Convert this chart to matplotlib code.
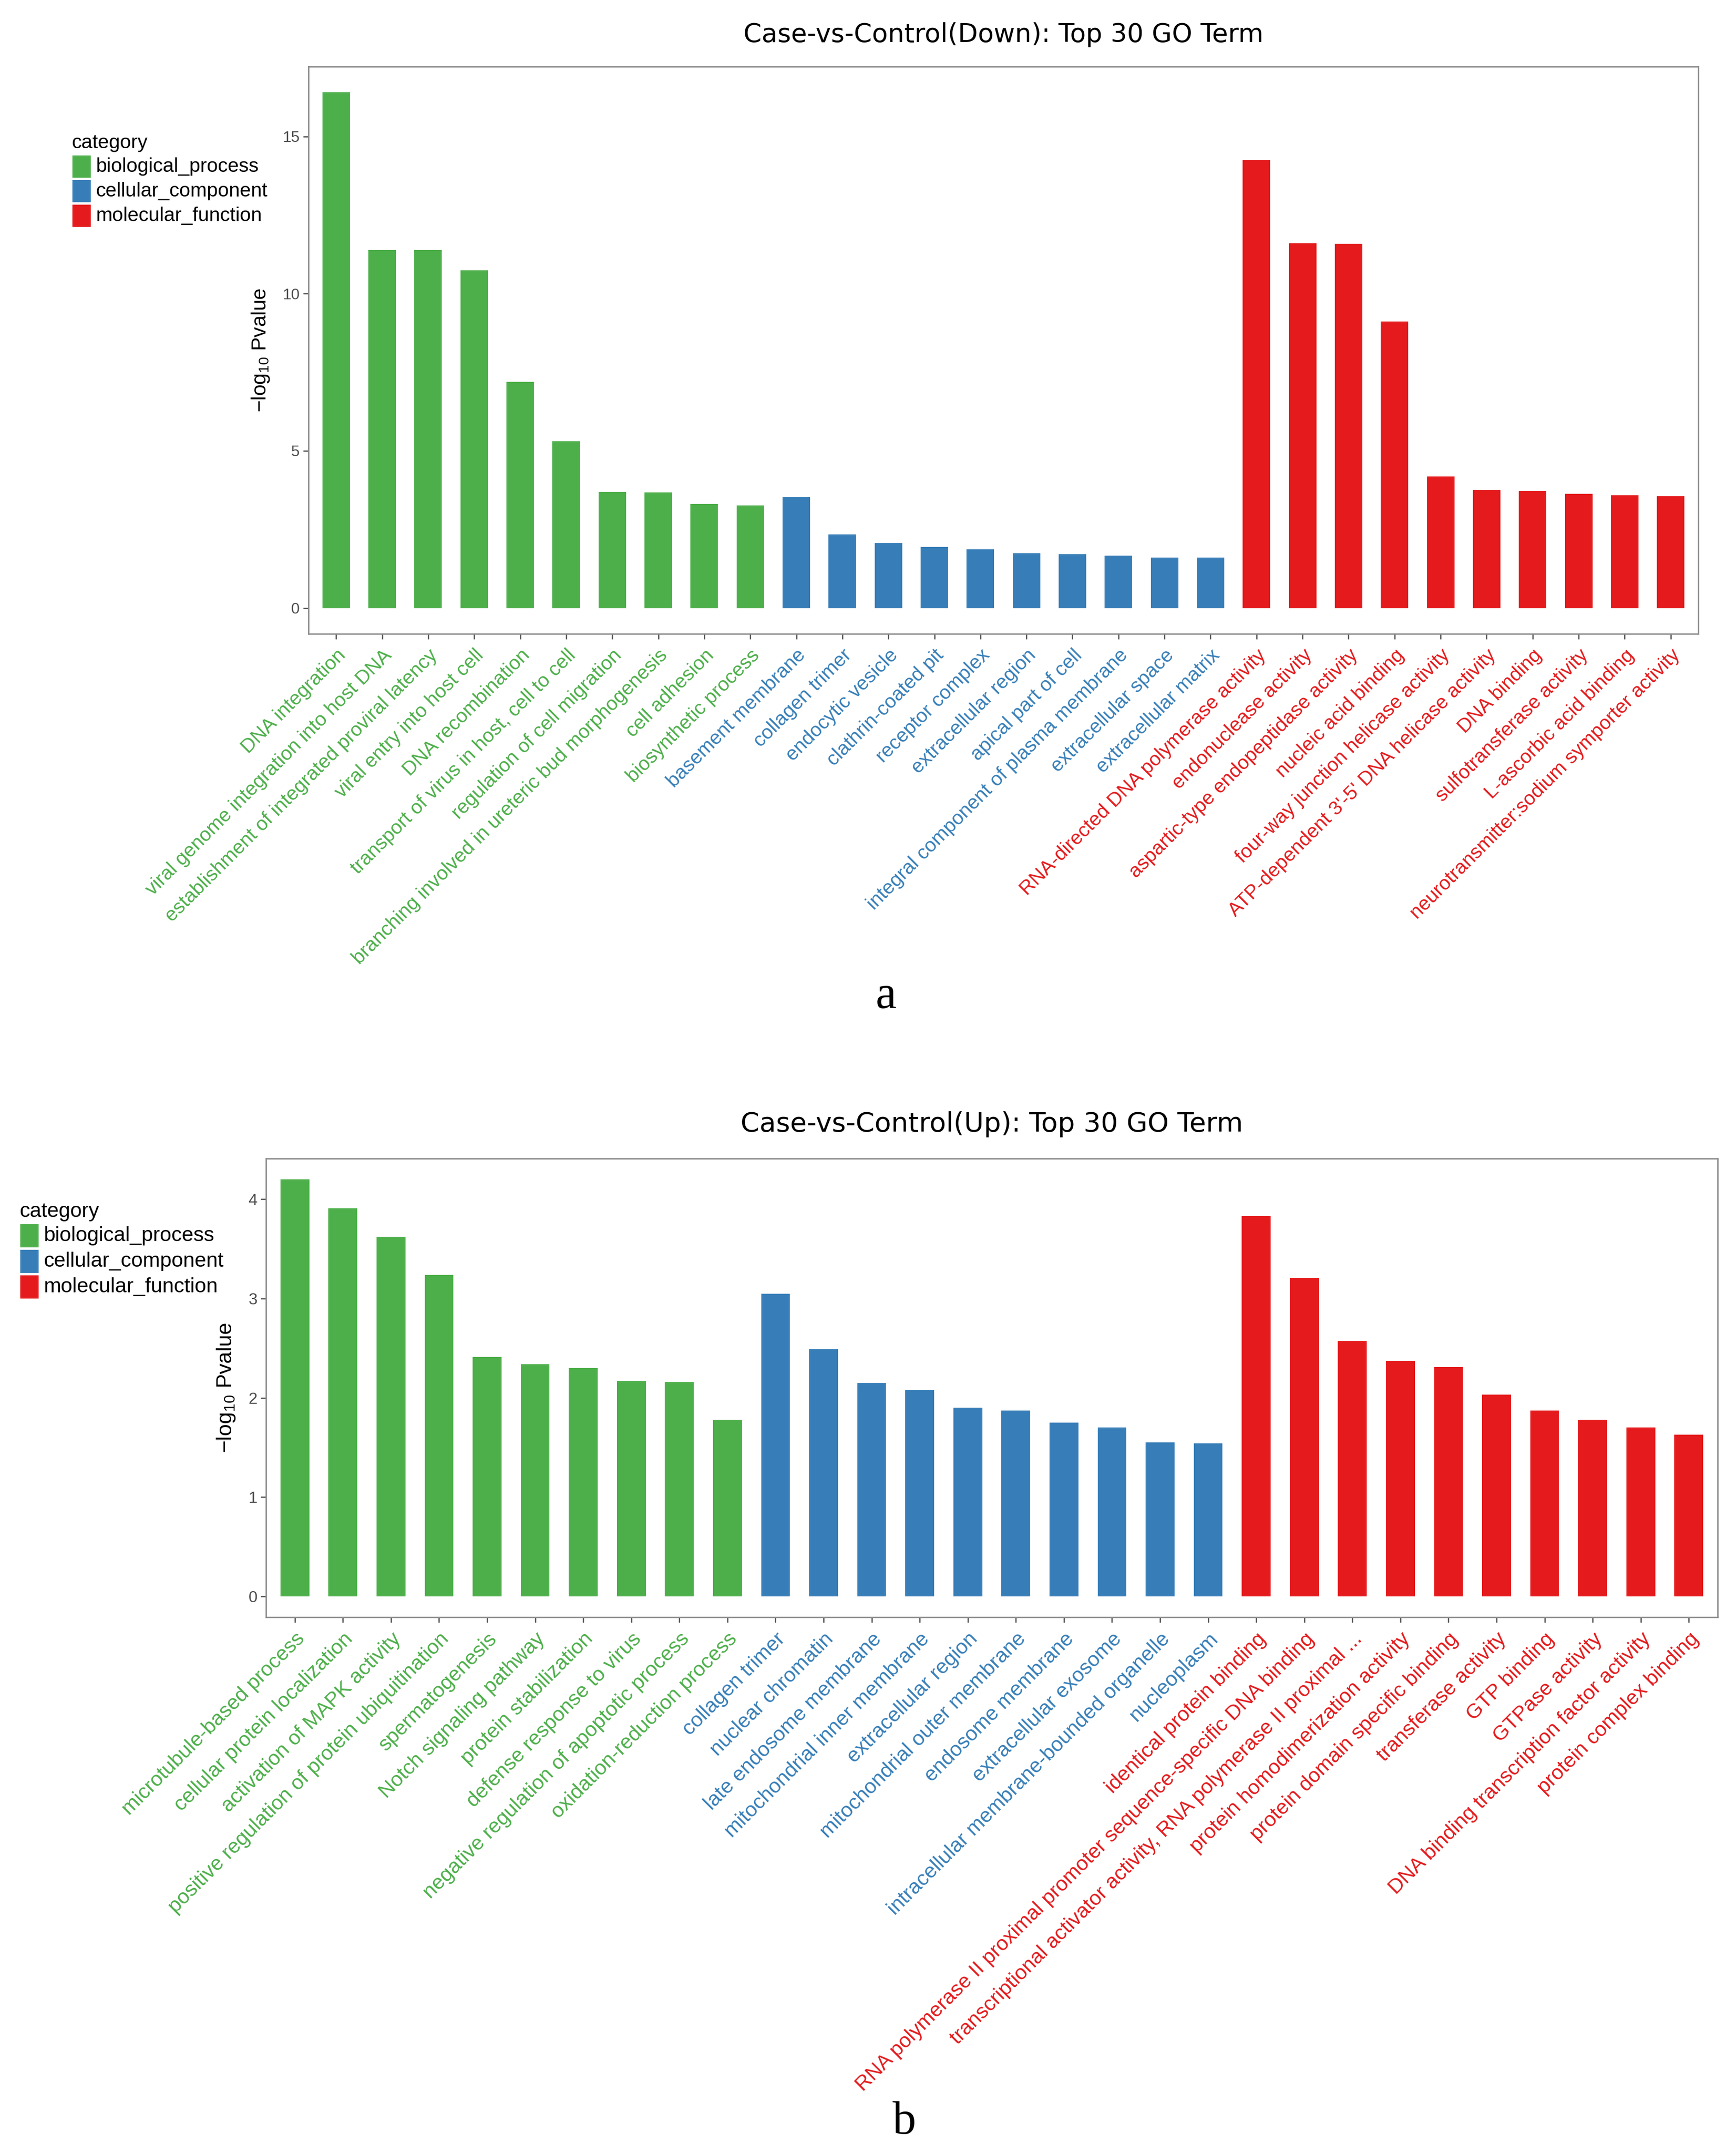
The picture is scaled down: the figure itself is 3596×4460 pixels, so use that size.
import numpy as np
import matplotlib
matplotlib.use('Agg')
import matplotlib.pyplot as plt
from matplotlib.patches import Rectangle
import matplotlib.transforms as mtransforms

plt.rcParams['font.family'] = ['Liberation Sans', 'DejaVu Sans']
plt.rcParams['mathtext.fontset'] = 'custom'
plt.rcParams['mathtext.rm'] = 'Liberation Sans'
plt.rcParams['mathtext.it'] = 'Liberation Sans:italic'

# ---------------- data ----------------
category_names = ['biological_process', 'cellular_component', 'molecular_function']
category_colors = ['#4DAF4A', '#377EB8', '#E41A1C']

down_title = 'Case-vs-Control(Down): Top 30 GO Term'
down_terms = [
    'DNA integration', 'viral genome integration into host DNA',
    'establishment of integrated proviral latency', 'viral entry into host cell',
    'DNA recombination', 'transport of virus in host, cell to cell',
    'regulation of cell migration', 'branching involved in ureteric bud morphogenesis',
    'cell adhesion', 'biosynthetic process',
    'basement membrane', 'collagen trimer', 'endocytic vesicle', 'clathrin-coated pit',
    'receptor complex', 'extracellular region', 'apical part of cell',
    'integral component of plasma membrane', 'extracellular space', 'extracellular matrix',
    'RNA-directed DNA polymerase activity', 'endonuclease activity',
    'aspartic-type endopeptidase activity', 'nucleic acid binding',
    'four-way junction helicase activity', "ATP-dependent 3'-5' DNA helicase activity",
    'DNA binding', 'sulfotransferase activity', 'L-ascorbic acid binding',
    'neurotransmitter:sodium symporter activity',
]
down_values = [16.40, 11.38, 11.38, 10.74, 7.19, 5.31, 3.69, 3.68, 3.31, 3.27,
               3.52, 2.35, 2.06, 1.94, 1.87, 1.75, 1.71, 1.67, 1.61, 1.61,
               14.25, 11.60, 11.58, 9.11, 4.18, 3.76, 3.72, 3.64, 3.59, 3.55]
down_categories = ['biological_process'] * 10 + ['cellular_component'] * 10 + ['molecular_function'] * 10
down_yticks = [0, 5, 10, 15]

up_title = 'Case-vs-Control(Up): Top 30 GO Term'
up_terms = [
    'microtubule-based process', 'cellular protein localization',
    'activation of MAPK activity', 'positive regulation of protein ubiquitination',
    'spermatogenesis', 'Notch signaling pathway', 'protein stabilization',
    'defense response to virus', 'negative regulation of apoptotic process',
    'oxidation-reduction process',
    'collagen trimer', 'nuclear chromatin', 'late endosome membrane',
    'mitochondrial inner membrane', 'extracellular region', 'mitochondrial outer membrane',
    'endosome membrane', 'extracellular exosome', 'intracellular membrane-bounded organelle',
    'nucleoplasm',
    'identical protein binding',
    'RNA polymerase II proximal promoter sequence-specific DNA binding',
    'transcriptional activator activity, RNA polymerase II proximal ...',
    'protein homodimerization activity', 'protein domain specific binding',
    'transferase activity', 'GTP binding', 'GTPase activity',
    'DNA binding transcription factor activity', 'protein complex binding',
]
up_values = [4.20, 3.91, 3.62, 3.24, 2.41, 2.34, 2.30, 2.17, 2.16, 1.78,
             3.05, 2.49, 2.15, 2.08, 1.90, 1.87, 1.75, 1.70, 1.55, 1.54,
             3.83, 3.21, 2.57, 2.37, 2.31, 2.03, 1.87, 1.78, 1.70, 1.63]
up_categories = ['biological_process'] * 10 + ['cellular_component'] * 10 + ['molecular_function'] * 10
up_yticks = [0, 1, 2, 3, 4]

panel_letters = ['a', 'b']

# ---------------- figure ----------------
W, H = 3596, 4460
DPI = 100
fig = plt.figure(figsize=(W / DPI, H / DPI), dpi=DPI)
color_of = dict(zip(category_names, category_colors))


def fx(px):
    return px / W


def fy(py):
    return 1 - py / H


def draw_panel(rect, terms, values, cats, title, yticks, title_pad, ylabelpad, fs):
    left, top, right, bottom = rect
    ax = fig.add_axes([fx(left), fy(bottom), fx(right) - fx(left), fy(top) - fy(bottom)])
    x = np.arange(len(terms))
    ax.bar(x, values, width=0.6, color=[color_of[c] for c in cats], linewidth=0)
    vmax = max(values)
    ax.set_ylim(-0.05 * vmax, 1.05 * vmax)
    ax.set_xlim(-0.6, len(terms) - 0.4)
    ax.set_xticks(x)
    offset = mtransforms.ScaledTranslation(16 / DPI, 0, fig.dpi_scale_trans)
    ax.set_xticklabels(terms, rotation=45, ha='right', va='top',
                       rotation_mode='anchor', fontsize=fs['x'])
    for lbl, c in zip(ax.get_xticklabels(), cats):
        lbl.set_color(color_of[c])
        lbl.set_transform(lbl.get_transform() + offset)
    ax.set_yticks(yticks)
    ax.set_yticklabels([str(t) for t in yticks], fontsize=fs['y'], color='#4D4D4D')
    ax.tick_params(axis='both', length=8, width=1.8, color='#4D4D4D')
    ax.tick_params(axis='x', pad=10)
    ax.tick_params(axis='y', pad=5)
    for s in ax.spines.values():
        s.set_color('#8C8C8C')
        s.set_linewidth(2.0)
    ax.set_ylabel(r'$\mathregular{-log_{10}}$ Pvalue', fontsize=fs['ylabel'], labelpad=ylabelpad)
    ax.set_title(title, fontfamily='DejaVu Sans', fontsize=fs['title'], pad=title_pad)
    return ax


def draw_legend(x_title, y_title, x_key, key_top, key_w, key_h, step, x_text, size):
    fig.text(fx(x_title), fy(y_title), 'category', fontsize=size, ha='left', va='center')
    for i, (name, col) in enumerate(zip(category_names, category_colors)):
        t = key_top + i * step
        fig.add_artist(Rectangle((fx(x_key), fy(t + key_h)), fx(key_w), key_h / H,
                                 transform=fig.transFigure, facecolor=col, edgecolor='none'))
        fig.text(fx(x_text), fy(t + key_h / 2), name, fontsize=size, ha='left', va='center')


top_fs = {'x': 29.5, 'y': 23, 'ylabel': 30.5, 'title': 38.7}
bot_fs = {'x': 31, 'y': 24, 'ylabel': 32, 'title': 40.3}

draw_panel((639, 138, 3518, 1313), down_terms, down_values, down_categories,
           down_title, down_yticks, title_pad=37, ylabelpad=17, fs=top_fs)
draw_legend(148, 296, 150, 322, 38, 46, 51, 198, 29.5)
fig.text(fx(1835), fy(2088), panel_letters[0], family='Liberation Serif', fontsize=70,
         ha='center', va='baseline')

draw_panel((551, 2400, 3558, 3350), up_terms, up_values, up_categories,
           up_title, up_yticks, title_pad=40, ylabelpad=17, fs=bot_fs)
draw_legend(40, 2510, 42, 2536, 38, 48, 53, 90, 31)
fig.text(fx(1873), fy(4420), panel_letters[1], family='Liberation Serif', fontsize=70,
         ha='center', va='baseline')

fig.savefig('out.png', dpi=DPI, facecolor='white')
